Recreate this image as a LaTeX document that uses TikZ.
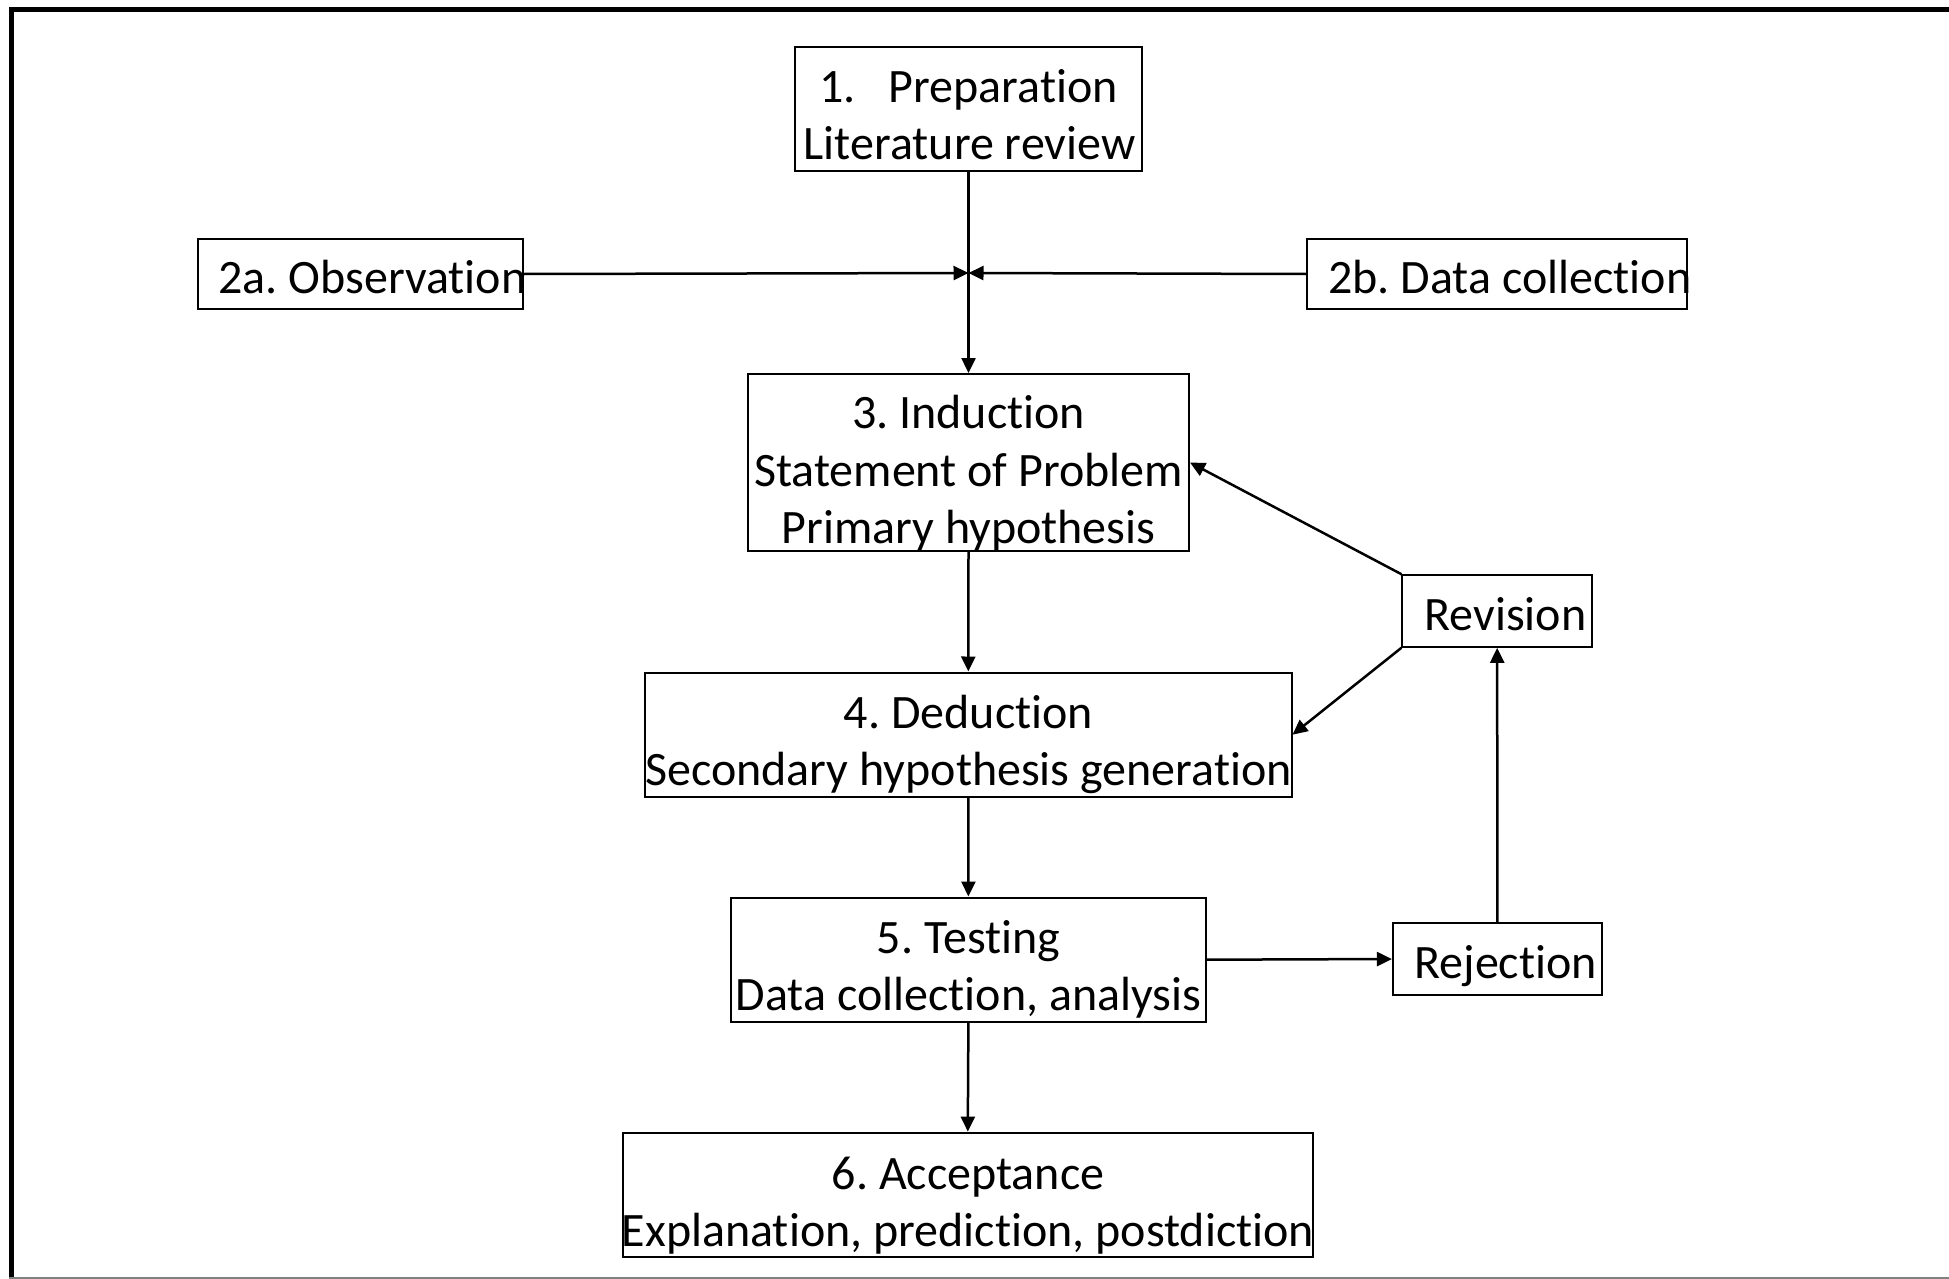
\documentclass[tikz,border=0pt]{standalone}
\usepackage{fontspec}
\setmainfont{Carlito}[Ligatures=NoCommon]
\frenchspacing
\usetikzlibrary{arrows.meta}
\tikzset{
  box/.style={draw=black, line width=1pt, rectangle, inner sep=0pt, fill=white},
  txt/.style={inner sep=0pt, anchor=base, font=\fontsize{24pt}{28pt}\selectfont},
  txtl/.style={txt, anchor=base west},
  conn/.style={line width=1.25pt, -{Triangle[length=7.5pt,width=7pt]}},
}
\begin{document}
\begin{tikzpicture}[x=0.5pt,y=-0.5pt]
\useasboundingbox (0,0) rectangle (1949,1279);
\fill[white] (0,0) rectangle (1949,1279);
% frame
\draw[line width=2.5pt] (11,1300) -- (11,9.3) -- (1970,9.3);
\draw[gray, line width=0.6pt] (9,1278) -- (1960,1278);

% boxes
\node[box, minimum width=173.5pt, minimum height=62pt] (n1) at (968.5,109) {};
\node[box, minimum width=162.5pt, minimum height=35pt] (n2a) at (360.5,274) {};
\node[box, minimum width=190pt, minimum height=35pt] (n2b) at (1497,274) {};
\node[box, minimum width=220.5pt, minimum height=88.5pt] (n3) at (968.5,462.5) {};
\node[box, minimum width=323.2pt, minimum height=62.2pt] (n4) at (968.3,734.7) {};
\node[box, minimum width=237.4pt, minimum height=62.2pt] (n5) at (968.4,959.7) {};
\node[box, minimum width=344.8pt, minimum height=62.2pt] (n6) at (967.8,1194.8) {};
\node[box, minimum width=94.8pt, minimum height=35.8pt] (rev) at (1497.2,611) {};
\node[box, minimum width=104.4pt, minimum height=36pt] (rej) at (1497.3,959) {};

% texts
\node[txt] (t1a) at (968.5,103) {1.\hspace{16.5pt}Preparation};
\node[txt] (t1b) at (969.5,160) {Literature review};
\node[txtl] (t2a) at (218,293) {2a. Observation};
\node[txtl] (t2b) at (1328,293) {2b. Data collection};
\node[txt] (t3a) at (968.5,428) {3. Induction};
\node[txt] (t3b) at (968.5,486) {Statement of Problem};
\node[txt] (t3c) at (968.5,543) {Primary hypothesis};
\node[txt] (t4a) at (968.5,728) {4. Deduction};
\node[txt] (t4b) at (968.5,785) {Secondary hypothesis generation};
\node[txt] (t5a) at (968.5,953) {5. Testing};
\node[txt] (t5b) at (968.5,1010) {Data collection, analysis};
\node[txt] (t6a) at (968,1189) {6. Acceptance};
\node[txt] (t6b) at (968,1246) {Explanation, prediction, postdiction};
\node[txtl] (trev) at (1424,630) {Revision};
\node[txtl] (trej) at (1414,978) {Rejection};

% connectors
\coordinate (j) at (968.5,273);
\draw[conn] (n1.south) -- (n3.north);
\draw[conn] (n2a.east) -- (j);
\draw[conn] (n2b.west) -- (j);
\draw[conn] (n3.south) -- (n4.north);
\draw[conn] (n4.south) -- (n5.north);
\draw[conn] (n5.south) -- (n6.north);
\draw[conn] (n5.east) -- (rej.west);
\draw[conn] (rej.north) -- (rev.south);
\draw[conn] (rev.north west) -- (n3.east);
\draw[conn] (rev.south west) -- (n4.east);
\end{tikzpicture}
\end{document}
